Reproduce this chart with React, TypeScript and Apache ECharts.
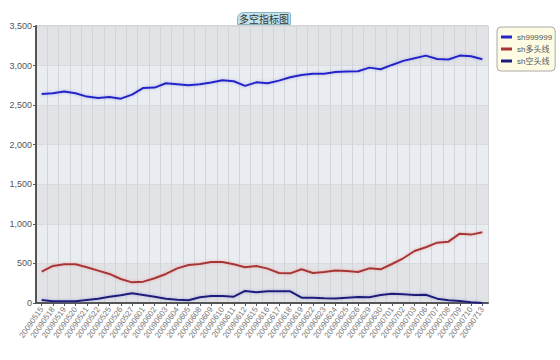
import React, { useEffect, useRef } from "react";
import * as echarts from "echarts";

const categories = [
  "20090515", "20090518", "20090519", "20090520", "20090521", "20090522", "20090525", "20090526",
  "20090527", "20090601", "20090602", "20090603", "20090604", "20090605", "20090608", "20090609",
  "20090610", "20090611", "20090612", "20090615", "20090616", "20090617", "20090618", "20090619",
  "20090622", "20090623", "20090624", "20090625", "20090626", "20090629", "20090630", "20090701",
  "20090702", "20090703", "20090706", "20090707", "20090708", "20090709", "20090710", "20090713",
];

const indexValues = [
  2642, 2651, 2671, 2651, 2608, 2591, 2604, 2582, 2633, 2718,
  2722, 2777, 2764, 2751, 2764, 2785, 2815, 2802, 2743, 2788,
  2777, 2810, 2852, 2882, 2898, 2898, 2920, 2924, 2928, 2974,
  2954, 3008, 3059, 3093, 3126, 3084, 3076, 3126, 3118, 3080,
];

const longLine = [
  396, 468, 489, 489, 451, 409, 367, 303, 261, 270,
  312, 367, 438, 480, 493, 518, 518, 489, 451, 468,
  434, 379, 375, 426, 380, 392, 410, 404, 392, 438,
  425, 493, 565, 657, 704, 762, 775, 876, 864, 893,
];

const shortLine = [
  38, 21, 21, 21, 38, 55, 80, 97, 122, 101,
  80, 55, 42, 35, 72, 88, 88, 80, 152, 135,
  148, 148, 148, 67, 67, 59, 57, 67, 76, 72,
  101, 118, 110, 101, 105, 55, 34, 25, 8, 0,
];

const seriesNames = ["sh999999", "sh多头线", "sh空头线"];
const titleText = "多空指标图";

const FONT = "'Liberation Sans', 'Noto Sans CJK SC', sans-serif";

export default function App() {
  const ref = useRef<HTMLDivElement>(null);
  useEffect(() => {
    if (!ref.current) return;
    const chart = echarts.init(ref.current, null, { renderer: "svg" });
    const mk = (name: string, data: number[], color: string, halo: string) => ({
      name,
      type: "line",
      data,
      symbol: "none",
      smooth: false,
      lineStyle: { color, width: 2, shadowColor: halo, shadowBlur: 3 },
      itemStyle: { color },
    });
    chart.setOption({
      animation: false,
      backgroundColor: "#ffffff",
      textStyle: { fontFamily: FONT },
      title: {
        text: titleText,
        left: 237,
        top: 12,
        padding: [2, 2, 1, 2],
        backgroundColor: "#c3e2ea",
        borderColor: "#88b4c2",
        borderWidth: 1,
        borderRadius: [6, 2, 0, 0],
        textStyle: { fontSize: 10, fontWeight: "normal", color: "#333", fontFamily: FONT },
      },
      legend: {
        orient: "vertical",
        left: 497,
        top: 27,
        padding: [5, 3, 5, 4],
        itemGap: 2,
        itemWidth: 11,
        itemHeight: 3,
        icon: "rect",
        backgroundColor: "#fdfbe2",
        borderColor: "#aaaaaa",
        borderWidth: 1,
        borderRadius: 4,
        textStyle: { fontSize: 8, color: "#555", lineHeight: 10, fontFamily: FONT },
        data: seriesNames,
      },
      grid: {
        left: 36,
        right: 72,
        top: 26,
        bottom: 57,
        show: true,
        borderColor: "#aaaaaa",
        borderWidth: 1,
        backgroundColor: "#e6e8ec",
      },
      xAxis: {
        type: "category",
        data: categories,
        boundaryGap: true,
        axisLine: { lineStyle: { color: "#555", width: 2 } },
        axisTick: { show: true, alignWithLabel: true, length: 3, lineStyle: { color: "#555" } },
        axisLabel: { rotate: 55, fontSize: 8, color: "#777", interval: 0, margin: 5 },
        splitLine: { show: true, lineStyle: { color: "#d2d4d8", width: 1 } },
      },
      yAxis: {
        type: "value",
        min: 0,
        max: 3500,
        interval: 500,
        axisLine: { show: true, lineStyle: { color: "#555", width: 2 } },
        axisTick: { show: true, length: 3, lineStyle: { color: "#555" } },
        axisLabel: {
          fontSize: 9,
          color: "#555",
          margin: 4,
          formatter: (v: number) => v.toLocaleString("en-US"),
        },
        splitLine: { show: true, lineStyle: { color: "#d8dadd", width: 1 } },
        splitArea: { show: true, areaStyle: { color: ["#e2e3e6", "#e9ecf0"] } },
      },
      series: [
        mk(seriesNames[0], indexValues, "#2424c8", "rgba(120,120,230,0.5)"),
        mk(seriesNames[1], longLine, "#a83434", "rgba(230,140,140,0.6)"),
        mk(seriesNames[2], shortLine, "#1c1c7a", "rgba(110,110,200,0.5)"),
      ],
    });
    return () => chart.dispose();
  }, []);
  return <div ref={ref} style={{ width: 560, height: 360, position: "absolute", left: 0, top: 0 }} />;
}
